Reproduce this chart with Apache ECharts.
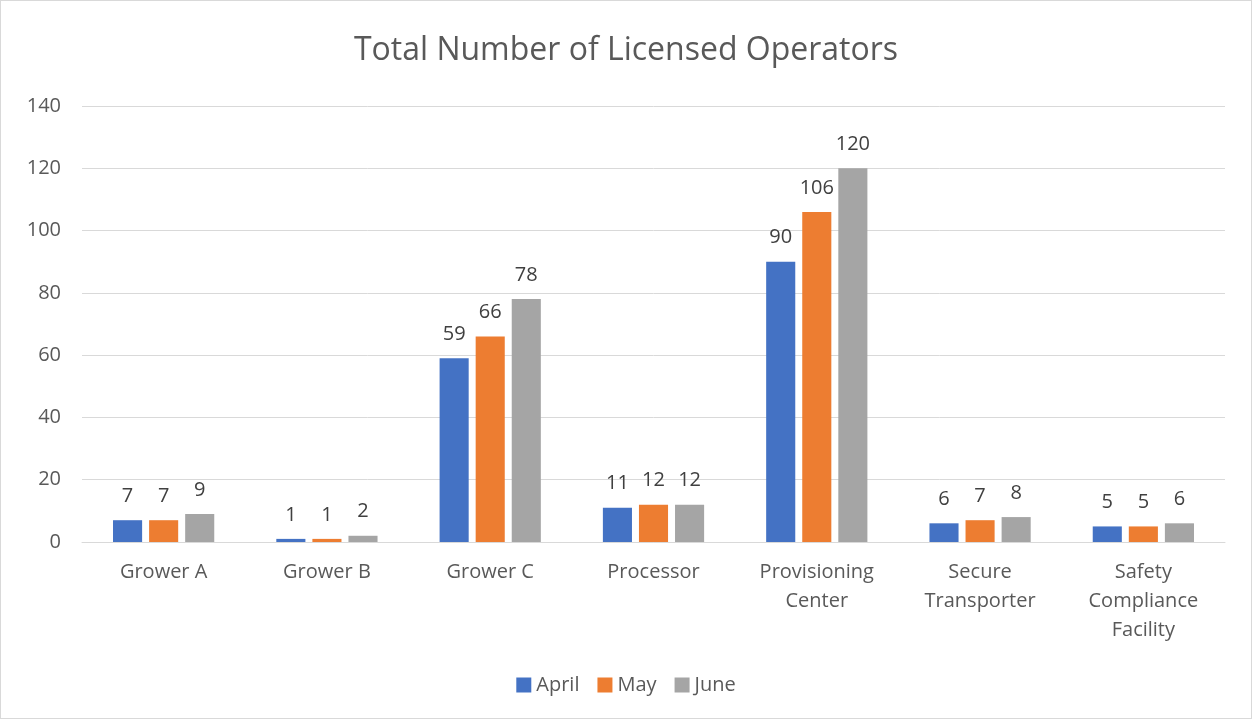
<!DOCTYPE html>
<html lang="en">
<head>
    <meta charset="UTF-8">
    <title>Total Number of Licensed Operators</title>
    <script src="https://cdn.jsdelivr.net/npm/echarts@6/dist/echarts.min.js"></script>
    <style>
        html, body { margin: 0; padding: 0; background: #fff; }
        #chart {
            width: 1250px;
            height: 717px;
            border: 1px solid #d9d9d9;
        }
    </style>
</head>
<body>
    <div id="chart"></div>
    <script>
        const categories = ['Grower A', 'Grower B', 'Grower C', 'Processor',
            'Provisioning\nCenter', 'Secure\nTransporter', 'Safety\nCompliance\nFacility'];
        const april = [7, 1, 59, 11, 90, 6, 5];
        const may = [7, 1, 66, 12, 106, 7, 5];
        const june = [9, 2, 78, 12, 120, 8, 6];
        const yTicks = [0, 20, 40, 60, 80, 100, 120, 140];

        const font = '"Open Sans", "Liberation Sans", sans-serif';

        function barSeries(name, data, color) {
            return {
                name: name,
                type: 'bar',
                data: data,
                barGap: '24%',
                barCategoryGap: '38%',
                itemStyle: { color: color },
                label: {
                    show: true,
                    position: 'top',
                    distance: 14,
                    color: '#404040',
                    fontSize: 20,
                    fontFamily: font
                }
            };
        }

        const chart = echarts.init(document.getElementById('chart'));
        chart.setOption({
            animation: false,
            title: {
                text: 'Total Number of Licensed Operators',
                left: 'center',
                top: 29,
                textStyle: { color: '#595959', fontSize: 32, fontWeight: 'normal', fontFamily: font }
            },
            legend: {
                bottom: 18,
                left: 'center',
                itemWidth: 15,
                itemHeight: 15,
                itemGap: 18,
                icon: 'rect',
                textStyle: { color: '#595959', fontSize: 20, fontFamily: font },
                data: ['April', 'May', 'June']
            },
            grid: { left: 81, right: 26, top: 105, bottom: 176 },
            xAxis: {
                type: 'category',
                data: categories,
                axisTick: { show: false },
                axisLine: { lineStyle: { color: '#d9d9d9' } },
                axisLabel: {
                    color: '#595959',
                    fontSize: 20,
                    fontFamily: font,
                    lineHeight: 29,
                    margin: 16
                }
            },
            yAxis: {
                type: 'value',
                min: yTicks[0],
                max: yTicks[yTicks.length - 1],
                interval: 20,
                axisLine: { show: false },
                axisTick: { show: false },
                splitLine: { lineStyle: { color: '#d9d9d9' } },
                axisLabel: { color: '#595959', fontSize: 20, fontFamily: font, margin: 21 }
            },
            series: [
                barSeries('April', april, '#4472c4'),
                barSeries('May', may, '#ed7d31'),
                barSeries('June', june, '#a5a5a5')
            ]
        });
    </script>
</body>
</html>
